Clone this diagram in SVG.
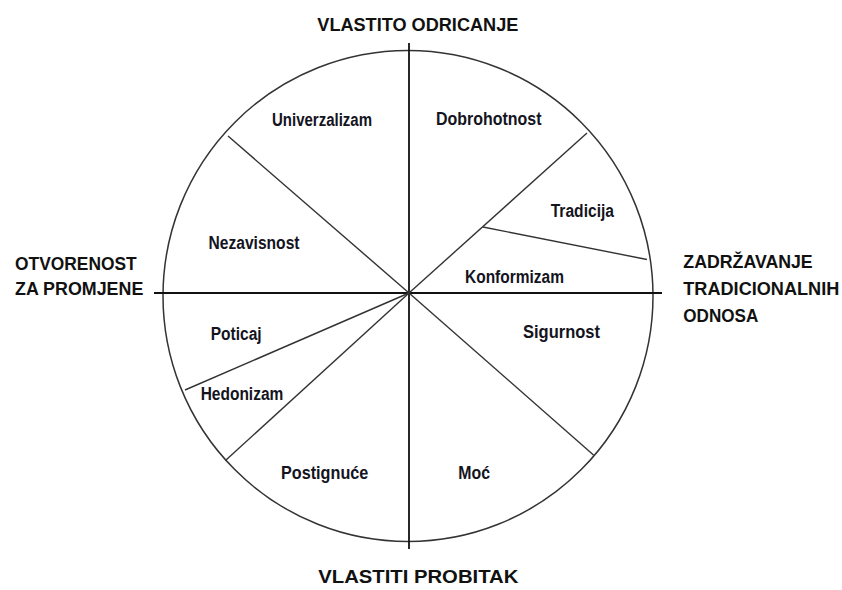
<svg xmlns="http://www.w3.org/2000/svg" width="842" height="590" viewBox="0 0 842 590">
<style>
.axis{stroke:#111;stroke-width:1.8;fill:none}
.div{stroke:#333;stroke-width:1.4;fill:none}
.ring{stroke:#333;stroke-width:1.5;fill:none}
.lbl{font-family:"Liberation Sans Narrow","Liberation Sans",Arial,sans-serif;font-weight:bold;font-size:18px;fill:#14141e}
.hd{font-family:"Liberation Sans",Arial,sans-serif;font-weight:bold;font-size:18.5px;fill:#111}
</style>
<rect width="842" height="590" fill="#fff"/>
<g id="circle">
<ellipse class="ring" cx="408" cy="296" rx="245" ry="245.5"/>
</g>
<g id="connectors">
<line class="axis" x1="409" y1="43" x2="409" y2="549"/>
<line class="axis" x1="154" y1="293" x2="662" y2="293"/>
<line class="div" x1="409" y1="293" x2="228" y2="136"/>
<line class="div" x1="409" y1="293" x2="587" y2="133"/>
<line class="div" x1="483" y1="227" x2="647" y2="259.5"/>
<line class="div" x1="409" y1="293" x2="593.5" y2="455"/>
<line class="div" x1="409" y1="293" x2="226" y2="460"/>
<line class="div" x1="409" y1="293" x2="185" y2="390"/>
</g>
<g id="n-univerzalizam"><text class="lbl" x="272" y="125.5" textLength="100" lengthAdjust="spacingAndGlyphs">Univerzalizam</text></g>
<g id="n-dobrohotnost"><text class="lbl" x="436" y="125" textLength="105.5" lengthAdjust="spacingAndGlyphs">Dobrohotnost</text></g>
<g id="n-nezavisnost"><text class="lbl" x="208.5" y="249.3" textLength="91" lengthAdjust="spacingAndGlyphs">Nezavisnost</text></g>
<g id="n-tradicija"><text class="lbl" x="550.7" y="216.7" textLength="63.3" lengthAdjust="spacingAndGlyphs">Tradicija</text></g>
<g id="n-konformizam"><text class="lbl" x="465" y="282.7" textLength="99" lengthAdjust="spacingAndGlyphs">Konformizam</text></g>
<g id="n-poticaj"><text class="lbl" x="210.7" y="340" textLength="51" lengthAdjust="spacingAndGlyphs">Poticaj</text></g>
<g id="n-sigurnost"><text class="lbl" x="523" y="337.5" textLength="77" lengthAdjust="spacingAndGlyphs">Sigurnost</text></g>
<g id="n-hedonizam"><text class="lbl" x="200.7" y="400" textLength="82.6" lengthAdjust="spacingAndGlyphs">Hedonizam</text></g>
<g id="n-postignuce"><text class="lbl" x="281" y="479.3" textLength="87.3" lengthAdjust="spacingAndGlyphs">Postignuće</text></g>
<g id="n-moc"><text class="lbl" x="458.3" y="479.3" textLength="31.7" lengthAdjust="spacingAndGlyphs">Moć</text></g>
<g id="h-top"><text class="hd" x="317.3" y="31" textLength="201" lengthAdjust="spacingAndGlyphs">VLASTITO ODRICANJE</text></g>
<g id="h-bottom"><text class="hd" x="318.3" y="582.7" textLength="200" lengthAdjust="spacingAndGlyphs">VLASTITI PROBITAK</text></g>
<g id="h-left">
<text class="hd" x="15" y="270" textLength="121.7" lengthAdjust="spacingAndGlyphs">OTVORENOST</text>
<text class="hd" x="15" y="295" textLength="128.3" lengthAdjust="spacingAndGlyphs">ZA PROMJENE</text>
</g>
<g id="h-right">
<text class="hd" x="683.3" y="268.3" textLength="129.4" lengthAdjust="spacingAndGlyphs">ZADRŽAVANJE</text>
<text class="hd" x="683.3" y="295" textLength="156" lengthAdjust="spacingAndGlyphs">TRADICIONALNIH</text>
<text class="hd" x="683.3" y="321.7" textLength="75" lengthAdjust="spacingAndGlyphs">ODNOSA</text>
</g>
</svg>
